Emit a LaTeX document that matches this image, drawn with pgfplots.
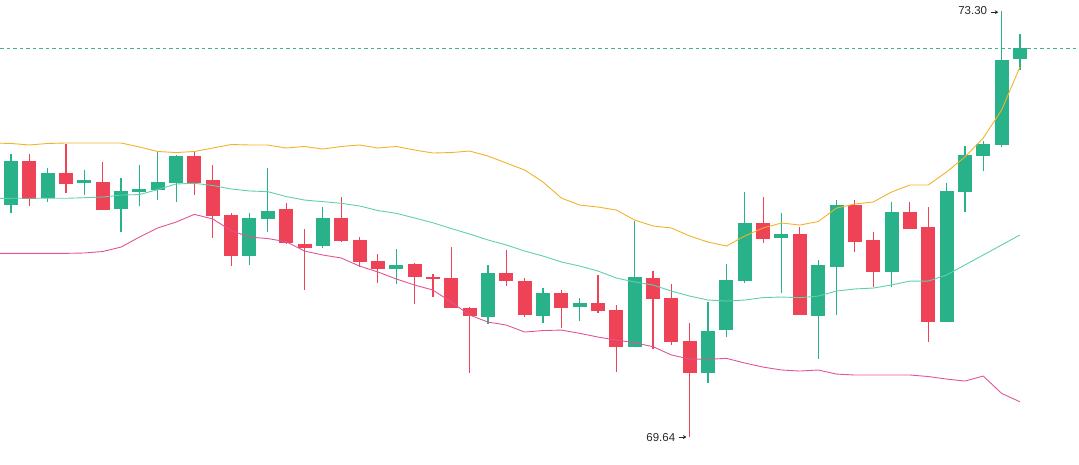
\documentclass[border=0pt]{standalone}
\usepackage{pgfplots}
\pgfplotsset{compat=1.18}
\usepackage{pgfplotstable}
\usepackage{fontspec}
\setmainfont{Liberation Sans}
\usetikzlibrary{arrows.meta}
\definecolor{upc}{RGB}{41,178,138}
\definecolor{dnc}{RGB}{238,66,86}
\definecolor{bbup}{RGB}{242,178,42}
\definecolor{bbmid}{RGB}{95,208,172}
\definecolor{bblo}{RGB}{226,84,152}
\definecolor{lbl}{RGB}{40,40,40}
\definecolor{lastcl}{RGB}{70,175,150}

\pgfplotstableread{
x o h l c
1 71.633 72.071 71.565 72.011
3 71.693 71.951 71.659 71.908
5 71.826 71.934 71.719 71.831
7 71.599 71.865 71.401 71.754
8 71.745 71.977 71.625 71.771
9 71.762 72.089 71.676 71.831
10 71.822 72.063 71.659 72.054
14 71.195 71.565 71.118 71.522
15 71.513 71.951 71.401 71.582
18 71.281 71.616 71.264 71.522
22 71.083 71.255 70.955 71.118
27 70.671 71.118 70.611 71.049
30 70.680 70.920 70.619 70.877
32 70.757 70.834 70.637 70.791
35 70.413 71.496 70.413 71.015
39 70.190 70.800 70.104 70.551
40 70.559 71.126 70.499 70.989
41 70.980 71.745 70.963 71.479
43 71.350 71.565 70.877 71.384
45 70.680 71.161 70.310 71.118
46 71.101 71.676 70.688 71.633
49 71.058 71.659 70.929 71.573
52 70.628 71.822 70.628 71.754
53 71.745 72.140 71.573 72.063
54 72.054 72.183 71.925 72.157
55 72.149 73.300 72.132 72.879
56 72.888 73.102 72.793 72.982
}\upcandles

\pgfplotstableread{
x o h l c
2 72.011 72.071 71.625 71.685
4 71.908 72.157 71.736 71.814
6 71.831 72.003 71.590 71.590
11 72.054 72.097 71.719 71.822
12 71.848 71.977 71.350 71.539
13 71.547 71.565 71.109 71.195
16 71.599 71.650 71.298 71.307
17 71.298 71.427 70.903 71.264
19 71.522 71.702 71.315 71.324
20 71.333 71.358 71.101 71.144
21 71.152 71.212 70.963 71.083
23 71.126 71.135 70.783 71.015
24 71.015 71.040 70.843 70.998
25 71.006 71.272 70.748 70.748
26 70.748 70.757 70.190 70.680
28 71.049 71.247 70.937 70.980
29 70.980 71.006 70.671 70.688
31 70.877 70.903 70.577 70.748
33 70.791 71.032 70.705 70.723
34 70.731 70.774 70.199 70.413
36 71.006 71.066 70.396 70.826
37 70.834 70.955 70.430 70.456
38 70.465 70.619 69.640 70.190
42 71.479 71.702 71.307 71.341
44 71.384 71.444 70.688 70.688
47 71.633 71.676 71.229 71.315
48 71.333 71.401 70.929 71.058
50 71.573 71.659 71.427 71.427
51 71.444 71.616 70.456 70.628
}\dncandles

\pgfplotstableread{
x u m lo
0 72.166 71.689 71.218
1 72.162 71.691 71.218
2 72.149 71.691 71.218
3 72.162 71.691 71.218
4 72.166 71.691 71.218
5 72.166 71.696 71.221
6 72.166 71.702 71.234
7 72.166 71.719 71.272
8 72.132 71.723 71.358
9 72.093 71.766 71.436
10 72.084 71.814 71.487
11 72.093 71.820 71.553
12 72.123 71.801 71.513
13 72.153 71.771 71.414
14 72.149 71.754 71.358
15 72.149 71.748 71.345
16 72.123 71.706 71.318
17 72.136 71.676 71.238
18 72.114 71.662 71.204
19 72.136 71.648 71.178
20 72.149 71.625 71.109
21 72.123 71.586 71.058
22 72.136 71.562 70.998
23 72.106 71.522 70.946
24 72.080 71.481 70.903
25 72.084 71.431 70.800
26 72.097 71.384 70.688
27 72.054 71.333 70.628
28 71.994 71.290 70.602
29 71.934 71.238 70.542
30 71.831 71.195 70.555
31 71.693 71.144 70.559
32 71.633 71.109 70.531
33 71.616 71.066 70.499
34 71.590 71.006 70.473
35 71.504 70.972 70.450
36 71.453 70.946 70.416
37 71.436 70.894 70.345
38 71.367 70.851 70.310
39 71.315 70.817 70.308
40 71.281 70.808 70.316
41 71.367 70.817 70.276
42 71.436 70.838 70.241
43 71.479 70.843 70.216
44 71.461 70.837 70.207
45 71.491 70.851 70.216
46 71.607 70.894 70.181
47 71.642 70.912 70.173
48 71.659 70.920 70.173
49 71.745 70.946 70.173
50 71.805 70.980 70.173
51 71.805 70.980 70.160
52 71.917 71.032 70.138
53 72.046 71.118 70.121
54 72.209 71.204 70.164
55 72.449 71.290 70.015
56 72.819 71.376 69.943
}\bands

\begin{document}
\begin{tikzpicture}
\begin{axis}[
  width=1079pt, height=464pt, scale only axis,
  xmin=0.4, xmax=59.22, ymin=69.4085, ymax=73.3945,
  hide axis, clip=true,
]
% last close dashed line
\addplot[lastcl, line width=0.7pt, dash pattern=on 3.5pt off 3pt] coordinates {(0.4,72.982) (59.22,72.982)};
% wicks
\addplot[draw=none, mark=none, forget plot, error bars/.cd, y dir=plus, y explicit, error mark=none,
  error bar style={draw=upc, line width=1.2pt}]
  table[x=x, y=l, y error plus expr=\thisrow{h}-\thisrow{l}] {\upcandles};
\addplot[draw=none, mark=none, forget plot, error bars/.cd, y dir=plus, y explicit, error mark=none,
  error bar style={draw=dnc, line width=1.2pt}]
  table[x=x, y=l, y error plus expr=\thisrow{h}-\thisrow{l}] {\dncandles};
% bodies
\addplot[draw=none, mark=none, forget plot, error bars/.cd, y dir=plus, y explicit, error mark=none,
  error bar style={draw=upc, line width=14pt}]
  table[x=x, y expr={min(\thisrow{o},\thisrow{c})}, y error plus expr={max(abs(\thisrow{c}-\thisrow{o}),0.018)}] {\upcandles};
\addplot[draw=none, mark=none, forget plot, error bars/.cd, y dir=plus, y explicit, error mark=none,
  error bar style={draw=dnc, line width=14pt}]
  table[x=x, y expr={min(\thisrow{o},\thisrow{c})}, y error plus expr={max(abs(\thisrow{c}-\thisrow{o}),0.018)}] {\dncandles};
% Bollinger bands
\addplot[bbup, line width=0.9pt] table[x=x, y=u] {\bands};
\addplot[bbmid, line width=0.9pt] table[x=x, y=m] {\bands};
\addplot[bblo, line width=0.9pt] table[x=x, y=lo] {\bands};
% labels
\node[anchor=east, text=lbl, font=\fontsize{11.5}{13}\selectfont, inner sep=0pt] at (axis cs:54.22,73.30) {73.30};
\draw[lbl, line width=0.8pt, -{Stealth[length=3.5pt,width=4pt]}] (axis cs:54.40,73.29) -- (axis cs:54.82,73.29);
\node[anchor=east, text=lbl, font=\fontsize{11.5}{13}\selectfont, inner sep=0pt] at (axis cs:37.22,69.64) {69.64};
\draw[lbl, line width=0.8pt, -{Stealth[length=3.5pt,width=4pt]}] (axis cs:37.40,69.64) -- (axis cs:37.82,69.64);
\end{axis}
\pgfresetboundingbox
\path (current axis.south west) rectangle (current axis.north east);
\end{tikzpicture}
\end{document}
